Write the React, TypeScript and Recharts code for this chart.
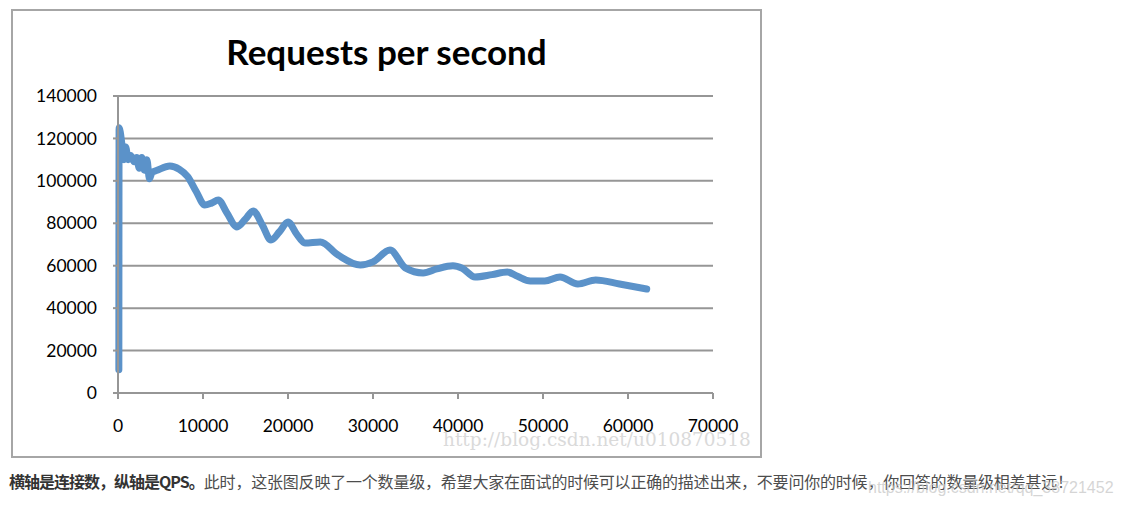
import { LineChart, Line, XAxis, YAxis, CartesianGrid } from "recharts";

// connections (x) vs requests per second (y)
const connections = [
  100, 130, 500, 700, 900, 1200, 1500, 1900, 2200, 2500, 2800, 3100, 3400,
  3700, 4000, 4600, 6100, 7200, 8200, 9200, 10200, 11000, 11800, 12800, 14000,
  15000, 15900, 17000, 18000, 19000, 20000, 21000, 22000, 23800, 25900, 28500,
  30000, 32000, 33800, 35900, 37500, 39400, 40500, 42000, 44000, 45800, 47000,
  48500, 50200, 52000, 54100, 56200, 59000, 62200,
];
const qps = [
  11000, 125000, 116000, 110000, 116000, 110000, 112000, 109000, 111000,
  106000, 111000, 105000, 110000, 101000, 104000, 105000, 107000, 105500,
  102000, 95000, 88600, 89500, 91000, 85000, 78300, 82000, 85800, 79000, 72100,
  76000, 80600, 75000, 70700, 71200, 65000, 60300, 61800, 67400, 59000, 56600,
  58500, 60000, 58800, 54700, 55800, 57000, 55000, 52800, 52800, 54700, 51400,
  53300, 51400, 49000,
];
const xTicks = [0, 10000, 20000, 30000, 40000, 50000, 60000, 70000];
const yTicks = [0, 20000, 40000, 60000, 80000, 100000, 120000, 140000];

const data = connections.map((c, i) => ({ c, qps: qps[i] }));

const tickStyle = { fill: "#000", fontSize: 17.5, fontFamily: "Lato" };

export default function App() {
  return (
    <div
      style={{
        position: "absolute",
        left: 0,
        top: 0,
        width: 1123,
        height: 509,
        background: "#fff",
        overflow: "hidden",
      }}
    >
      <div
        style={{
          position: "absolute",
          left: 11,
          top: 9,
          width: 751,
          height: 449,
          border: "2px solid #a6a6a6",
          boxSizing: "border-box",
        }}
      />
      <div
        style={{
          position: "absolute",
          left: 11,
          top: 31,
          width: 751,
          textAlign: "center",
          fontFamily: "Lato",
          fontWeight: 700,
          fontSize: 35,
          lineHeight: "40px",
          color: "#000",
        }}
      >
        Requests per second
      </div>
      <div style={{ position: "absolute", left: 11, top: 9 }}>
        <LineChart
          width={751}
          height={449}
          data={data}
          margin={{ top: 87, right: 49, left: 0, bottom: 0 }}
        >
          <CartesianGrid
            vertical={false}
            stroke="#969696"
            strokeWidth={2}
            strokeDasharray=""
          />
          <XAxis
            dataKey="c"
            type="number"
            domain={[0, 70000]}
            ticks={xTicks}
            interval={0}
            height={65}
            tickSize={6}
            tickMargin={21}
            axisLine={{ stroke: "#969696", strokeWidth: 2 }}
            tickLine={{ stroke: "#969696", strokeWidth: 2 }}
            tick={tickStyle}
          />
          <YAxis
            domain={[0, 140000]}
            ticks={yTicks}
            interval={0}
            width={107}
            tickSize={5}
            tickMargin={16}
            axisLine={{ stroke: "#969696", strokeWidth: 2 }}
            tickLine={{ stroke: "#969696", strokeWidth: 2 }}
            tick={tickStyle}
          />
          <Line
            type="monotone"
            dataKey="qps"
            stroke="#5b92c9"
            strokeWidth={7}
            strokeLinecap="round"
            strokeLinejoin="round"
            dot={false}
            activeDot={false}
            isAnimationActive={false}
          />
        </LineChart>
      </div>
      <div
        style={{
          position: "absolute",
          left: 443,
          top: 429,
          fontFamily: "'DejaVu Serif'",
          fontSize: 18.5,
          color: "#dadada",
          whiteSpace: "nowrap",
        }}
      >
        http://blog.csdn.net/u010870518
      </div>
      <div
        style={{
          position: "absolute",
          left: 9,
          top: 470,
          fontFamily: "'Noto Sans CJK SC'",
          fontSize: 16,
          lineHeight: "22px",
          color: "#4d4d4d",
          whiteSpace: "nowrap",
          letterSpacing: "-0.2px",
        }}
      >
        <b style={{ color: "#333", letterSpacing: "-1px" }}>
          横轴是连接数，纵轴是QPS。
        </b>
        此时，这张图反映了一个数量级，希望大家在面试的时候可以正确的描述出来，不要问你的时候，你回答的数量级相差甚远！
      </div>
      <div
        style={{
          position: "absolute",
          left: 868,
          top: 479,
          fontFamily: "'Liberation Sans'",
          fontSize: 16,
          color: "rgba(200,200,200,0.75)",
          whiteSpace: "nowrap",
        }}
      >
        https://blog.csdn.net/qq_38721452
      </div>
    </div>
  );
}
